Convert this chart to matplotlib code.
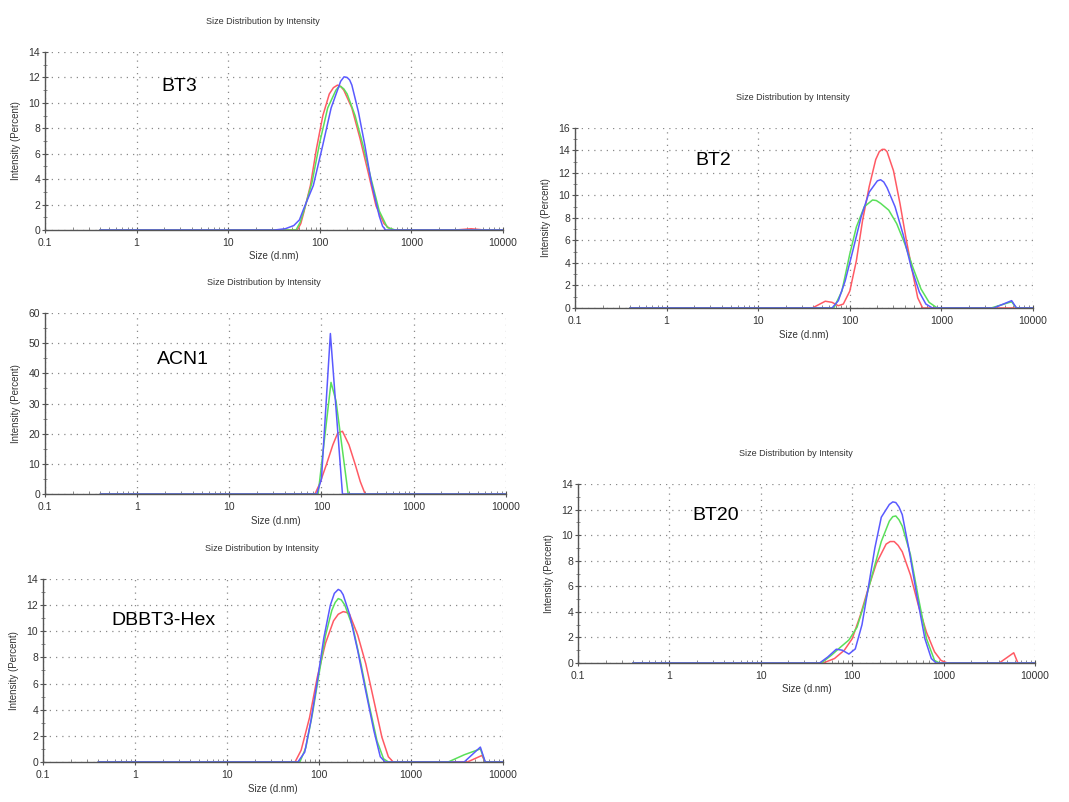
# DLS size distributions, five samples, redrawn from the instrument screenshots
import matplotlib
matplotlib.use("Agg")
import matplotlib.pyplot as plt
from matplotlib.ticker import FixedLocator, MultipleLocator, NullFormatter

plt.rcParams['font.family'] = ['Liberation Sans', 'DejaVu Sans']

RED = '#ff5a64'
GREEN = '#5ae05a'
BLUE = '#5a5aff'

# ---- BT3 ----
bt3_red_x = [0.4, 57, 62, 67, 79, 92, 108, 127, 141, 156, 169, 183, 224, 275, 336, 411, 503, 570, 641, 3000, 4500, 6300, 10000]
bt3_red_y = [0, 0, 0.5, 1.4, 3.5, 6.4, 9.0, 10.7, 11.2, 11.4, 11.3, 11.0, 9.6, 7.2, 4.6, 1.9, 0.5, 0.15, 0, 0, 0.1, 0, 0]
bt3_green_x = [0.4, 55, 61, 67, 82, 100, 122, 150, 160, 169, 183, 199, 243, 298, 364, 446, 546, 668, 10000]
bt3_green_y = [0, 0, 0.6, 1.5, 3.7, 6.9, 9.6, 11.0, 11.25, 11.3, 11.1, 10.7, 9.0, 6.6, 4.0, 1.5, 0.2, 0, 0]
bt3_blue_x = [0.4, 32, 42, 52, 60, 67, 85, 108, 133, 169, 184, 199, 212, 224, 264, 310, 364, 446, 485, 524, 10000]
bt3_blue_y = [0, 0, 0.1, 0.35, 0.8, 1.7, 3.5, 6.7, 9.6, 11.7, 12.05, 12.0, 11.8, 11.4, 9.3, 6.7, 3.8, 1.1, 0.3, 0, 0]

# ---- BT2 ----
bt2_red_x = [0.4, 39, 54, 64, 75, 85, 100, 118, 138, 163, 192, 210, 226, 240, 255, 300, 353, 415, 489, 552, 624, 10000]
bt2_red_y = [0, 0, 0.6, 0.5, 0.2, 0.35, 1.5, 4.2, 7.8, 10.8, 13.2, 13.9, 14.1, 14.1, 13.9, 12.2, 9.3, 6.0, 3.0, 0.9, 0, 0]
bt2_green_x = [0.4, 67, 82, 100, 118, 144, 177, 195, 217, 266, 325, 399, 489, 598, 734, 900, 3500, 5850, 6600, 10000]
bt2_green_y = [0, 0, 1.5, 4.8, 7.2, 9.0, 9.6, 9.55, 9.3, 8.7, 7.5, 5.7, 3.6, 1.7, 0.5, 0, 0, 0.55, 0, 0]
bt2_blue_x = [0.4, 64, 75, 89, 108, 133, 163, 200, 217, 235, 255, 312, 383, 469, 575, 677, 796, 3730, 5850, 6600, 10000]
bt2_blue_y = [0, 0, 0.65, 2.4, 5.1, 8.1, 10.3, 11.3, 11.4, 11.2, 10.7, 9.0, 6.5, 3.6, 1.4, 0.35, 0, 0, 0.65, 0, 0]

# ---- ACN1 ----
acn1_red_x = [0.4, 85, 96, 113, 133, 150, 169, 199, 233, 264, 298, 10000]
acn1_red_y = [0, 0, 3.5, 9.7, 16.3, 20.2, 20.8, 16.3, 9.7, 4.1, 0, 0]
acn1_green_x = [0.4, 92, 104, 127, 144, 195, 10000]
acn1_green_y = [0, 0, 14, 37, 30.8, 0, 0]
acn1_blue_x = [0.4, 89, 100, 125, 169, 10000]
acn1_blue_y = [0, 0, 5, 53.2, 0, 0]

# ---- DBBT3-Hex ----
dbb_red_x = [0.4, 55, 64, 79, 96, 118, 144, 162, 183, 198, 215, 264, 323, 395, 483, 568, 641, 4110, 5910, 6410, 10000]
dbb_red_y = [0, 0, 0.9, 3.4, 6.5, 9.1, 10.8, 11.3, 11.5, 11.45, 11.3, 9.7, 7.5, 4.7, 1.9, 0.4, 0, 0, 0.5, 0, 0]
dbb_green_x = [0.4, 62, 72, 85, 100, 118, 138, 150, 162, 175, 191, 234, 286, 350, 428, 503, 568, 2540, 3790, 5680, 6410, 10000]
dbb_green_y = [0, 0, 1.1, 3.7, 6.7, 9.7, 11.6, 12.2, 12.5, 12.4, 12.0, 10.3, 7.5, 4.4, 1.6, 0.25, 0, 0, 0.55, 1.0, 0, 0]
dbb_blue_x = [0.4, 59, 70, 82, 96, 113, 133, 147, 162, 172, 183, 215, 264, 323, 395, 464, 524, 3790, 5680, 6410, 10000]
dbb_blue_y = [0, 0, 0.75, 3.2, 6.2, 9.5, 12.0, 12.9, 13.2, 13.1, 12.8, 11.3, 8.5, 5.4, 2.4, 0.4, 0, 0, 1.14, 0, 0]

# ---- BT20 ----
bt20_red_x = [0.4, 48, 64, 82, 100, 123, 150, 184, 235, 260, 288, 318, 353, 433, 530, 650, 796, 937, 1100, 4060, 5850, 6500, 10000]
bt20_red_y = [0, 0, 0.35, 1.0, 1.9, 3.75, 5.85, 7.8, 9.3, 9.5, 9.5, 9.2, 8.7, 6.9, 4.5, 2.4, 0.87, 0.2, 0, 0, 0.8, 0, 0]
bt20_green_x = [0.4, 46, 59, 75, 92, 113, 138, 170, 208, 255, 278, 300, 325, 353, 433, 530, 650, 796, 900, 10000]
bt20_green_y = [0, 0, 0.6, 1.26, 1.8, 2.8, 4.8, 7.2, 9.5, 11.1, 11.45, 11.5, 11.2, 10.7, 8.5, 5.1, 1.9, 0.2, 0, 0]
bt20_blue_x = [0.4, 44, 54, 67, 78, 92, 108, 128, 150, 177, 208, 255, 278, 300, 325, 353, 415, 509, 624, 734, 829, 10000]
bt20_blue_y = [0, 0, 0.47, 1.08, 1.0, 0.7, 1.1, 3.0, 5.9, 9.0, 11.4, 12.4, 12.6, 12.55, 12.2, 11.6, 9.0, 5.3, 1.9, 0.35, 0, 0]

size_ticks = [0.1, 1, 10, 100, 1000, 10000]
size_labels = ['0.1', '1', '10', '100', '1000', '10000']


def draw_panel(rect, name, name_x, name_y, ymax, ystep, red, green, blue):
    ax = fig.add_axes(rect)
    ax.plot(red[0], red[1], color=RED, lw=1.1)
    ax.plot(green[0], green[1], color=GREEN, lw=1.1)
    ax.plot(blue[0], blue[1], color=BLUE, lw=1.1)

    ax.set_xscale('log')
    ax.set_xlim(0.1, 10000)
    ax.set_ylim(0, ymax)
    ax.xaxis.set_major_locator(FixedLocator(size_ticks))
    ax.set_xticklabels(size_labels)
    ax.xaxis.set_minor_locator(FixedLocator([m * d for d in [0.1, 1, 10, 100, 1000] for m in range(2, 10)]))
    ax.xaxis.set_minor_formatter(NullFormatter())
    ax.yaxis.set_major_locator(MultipleLocator(ystep))
    ax.yaxis.set_minor_locator(MultipleLocator(ystep / 2))

    ax.grid(True, which='major', ls=(0, (1, 4)), color='#8a8a8a', lw=0.9)
    ax.set_axisbelow(True)
    for s in ['top', 'right']:
        ax.spines[s].set_visible(False)
    for s in ['left', 'bottom']:
        ax.spines[s].set_color('#555555')
        ax.spines[s].set_linewidth(1.0)
    ax.tick_params(axis='y', which='major', direction='inout', length=5, width=0.8,
                   colors='#555555', labelcolor='#333333', labelsize=7.5, pad=1)
    ax.tick_params(axis='y', which='minor', direction='inout', length=3, width=0.6, colors='#777777')
    ax.tick_params(axis='x', which='major', direction='inout', length=4, width=0.8,
                   colors='#555555', labelcolor='#333333', labelsize=7.5, pad=4)
    ax.tick_params(axis='x', which='minor', direction='in', length=2, width=0.6, colors='#777777')

    ax.set_xlabel('Size (d.nm)', fontsize=7, color='#333333')
    ax.set_ylabel('Intensity (Percent)', fontsize=7, color='#333333')
    ax.xaxis.set_label_coords(0.5, -0.12)
    ax.yaxis.set_label_coords(-0.052, 0.5)
    ax.annotate('Size Distribution by Intensity', xy=(0.476, 1), xycoords='axes fraction',
                xytext=(0, 22), textcoords='offset points', ha='center', va='center',
                fontsize=6.5, color='#333333')
    ax.text(name_x, name_y, name, fontsize=14, ha='left', va='center', color='black')
    return ax


fig = plt.figure(figsize=(10.69, 8.02), dpi=100)

draw_panel([0.0421, 0.7132, 0.4284, 0.2219], 'BT3', 1.85, 11.3, 14, 2,
           (bt3_red_x, bt3_red_y), (bt3_green_x, bt3_green_y), (bt3_blue_x, bt3_blue_y))
draw_panel([0.5379, 0.6160, 0.4284, 0.2244], 'BT2', 2.04, 13.07, 16, 2,
           (bt2_red_x, bt2_red_y), (bt2_green_x, bt2_green_y), (bt2_blue_x, bt2_blue_y))
draw_panel([0.0421, 0.3840, 0.4310, 0.2257], 'ACN1', 1.63, 44.7, 60, 10,
           (acn1_red_x, acn1_red_y), (acn1_green_x, acn1_green_y), (acn1_blue_x, acn1_blue_y))
draw_panel([0.0402, 0.0499, 0.4303, 0.2282], 'DBBT3-Hex', 0.55, 10.86, 14, 2,
           (dbb_red_x, dbb_red_y), (dbb_green_x, dbb_green_y), (dbb_blue_x, dbb_blue_y))
draw_panel([0.5407, 0.1733, 0.4275, 0.2232], 'BT20', 1.77, 11.5, 14, 2,
           (bt20_red_x, bt20_red_y), (bt20_green_x, bt20_green_y), (bt20_blue_x, bt20_blue_y))

fig.savefig('out.png', dpi=100)
